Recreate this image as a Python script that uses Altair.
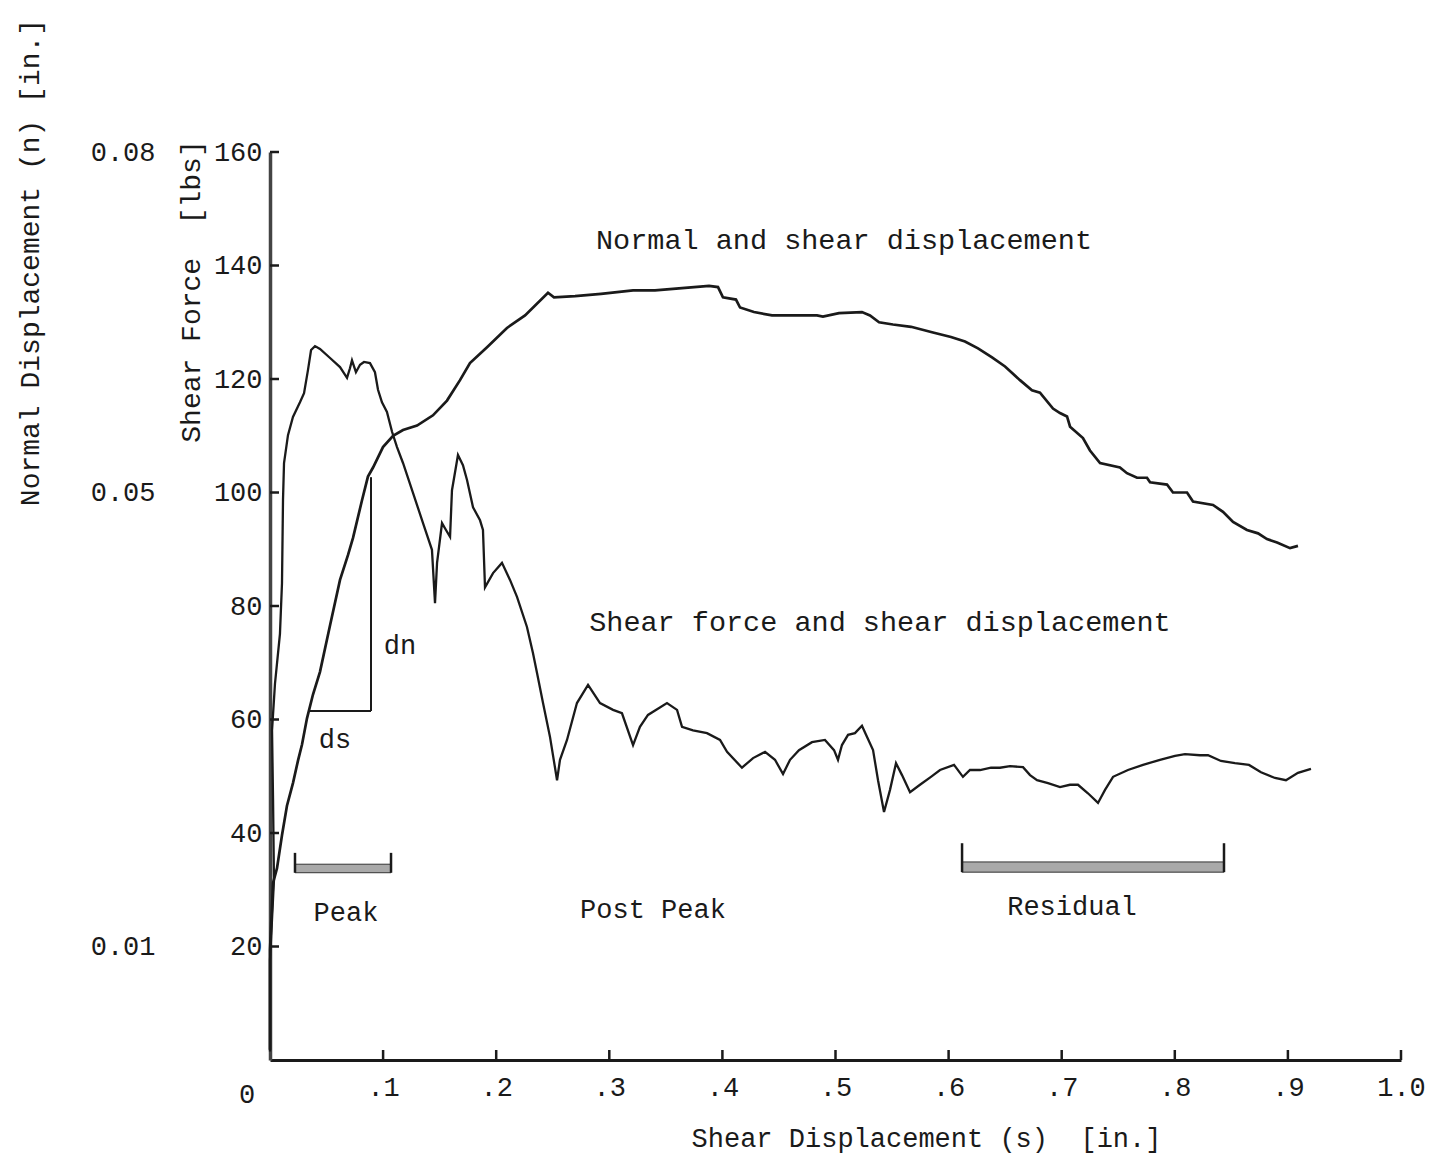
import altair as alt
import pandas as pd

# ---------------- data ----------------
# Shear force curve: shear displacement s [in.] vs shear force F [lbs]
force_s = [0.0, 0.0, 0.0035, 0.0027, 0.0018, 0.0044, 0.0088, 0.0106, 0.0115, 0.0124,
           0.0159, 0.0203, 0.0265, 0.0301, 0.0336, 0.0363, 0.0398, 0.0442, 0.0531, 0.0619,
           0.0681, 0.0707, 0.0725, 0.0760, 0.0796, 0.0831, 0.0884, 0.0928, 0.0955, 0.0990,
           0.1034, 0.1079, 0.1123, 0.1176, 0.1265, 0.1353, 0.1432, 0.1459, 0.1477, 0.1521,
           0.1556, 0.1592, 0.1609, 0.1662, 0.1706, 0.1742, 0.1795, 0.1857, 0.1883, 0.1901,
           0.1972, 0.2051, 0.2122, 0.2184, 0.2272, 0.2325, 0.2361, 0.2414, 0.2476, 0.2538,
           0.2564, 0.2626, 0.2714, 0.2812, 0.2918, 0.3033, 0.3112, 0.3210, 0.3271, 0.3342,
           0.3510, 0.3599, 0.3643, 0.3740, 0.3864, 0.3979, 0.4041, 0.4173, 0.4271, 0.4377,
           0.4465, 0.4536, 0.4598, 0.4677, 0.4792, 0.4907, 0.4987, 0.5022, 0.5057, 0.5111,
           0.5172, 0.5234, 0.5270, 0.5332, 0.5376, 0.5429, 0.5482, 0.5535, 0.5588, 0.5659,
           0.5747, 0.5844, 0.5924, 0.6048, 0.6127, 0.6189, 0.6278, 0.6375, 0.6454, 0.6543,
           0.6658, 0.6720, 0.6782, 0.6879, 0.6985, 0.7073, 0.7144, 0.7232, 0.7321, 0.7383,
           0.7454, 0.7586, 0.7719, 0.7869, 0.8002, 0.8090, 0.8223, 0.8294, 0.8408, 0.8532,
           0.8656, 0.8762, 0.8886, 0.8983, 0.9089, 0.9204]
force_F = [1.5, 17.6, 31.7, 45.8, 58.1, 66.3, 75.1, 84.0, 98.7, 105.2,
           110.1, 113.3, 115.9, 117.5, 121.6, 125.1, 125.8, 125.3, 123.7, 122.1,
           120.2, 121.9, 123.3, 121.2, 122.5, 123.0, 122.8, 121.2, 118.1, 115.9,
           114.2, 110.7, 108.0, 105.2, 99.9, 94.6, 89.9, 80.5, 87.6, 94.6,
           93.4, 92.2, 100.4, 106.6, 104.8, 102.2, 97.4, 95.1, 93.4, 83.3,
           85.8, 87.6, 84.6, 81.6, 76.3, 71.7, 68.2, 62.9, 56.9, 49.3,
           52.9, 56.4, 62.9, 66.1, 62.9, 61.7, 61.1, 55.5, 58.7, 60.8,
           62.9, 61.7, 58.7, 58.1, 57.6, 56.4, 54.3, 51.5, 53.2, 54.3,
           52.9, 50.4, 52.9, 54.6, 56.0, 56.4, 54.6, 52.9, 55.5, 57.3,
           57.6, 58.9, 57.3, 54.6, 49.3, 43.7, 47.6, 52.3, 50.2, 47.2,
           48.5, 49.9, 51.1, 52.0, 49.9, 51.1, 51.1, 51.5, 51.5, 51.8,
           51.6, 50.2, 49.3, 48.8, 48.1, 48.5, 48.5, 47.0, 45.3, 47.6,
           49.9, 51.1, 52.0, 52.9, 53.6, 53.9, 53.7, 53.7, 52.7, 52.3,
           52.0, 50.7, 49.7, 49.3, 50.6, 51.3]

# Normal displacement curve: shear displacement s [in.] vs normal displacement n [in.]
norm_s = [0.0, 0.0, 0.0027, 0.0062, 0.0106, 0.0150, 0.0203, 0.0248, 0.0283, 0.0327,
          0.0380, 0.0442, 0.0531, 0.0619, 0.0690, 0.0734, 0.0813, 0.0866, 0.0911, 0.0999,
          0.1088, 0.1176, 0.1300, 0.1441, 0.1565, 0.1680, 0.1768, 0.1919, 0.2095, 0.2255,
          0.2458, 0.2511, 0.2697, 0.2927, 0.3210, 0.3404, 0.3643, 0.3882, 0.3961, 0.4005,
          0.4120, 0.4156, 0.4279, 0.4439, 0.4677, 0.4836, 0.4889, 0.5031, 0.5234, 0.5305,
          0.5385, 0.5508, 0.5668, 0.5862, 0.6021, 0.6145, 0.6260, 0.6384, 0.6499, 0.6631,
          0.6737, 0.6808, 0.6923, 0.6985, 0.7047, 0.7074, 0.7188, 0.7250, 0.7339, 0.7515,
          0.7577, 0.7666, 0.7754, 0.7781, 0.7931, 0.7984, 0.8108, 0.8161, 0.8338, 0.8426,
          0.8515, 0.8638, 0.8736, 0.8815, 0.8904, 0.9019, 0.9089]
norm_n = [0.0009, 0.0097, 0.0156, 0.0169, 0.0198, 0.0224, 0.0244, 0.0264, 0.0278, 0.0301,
          0.0322, 0.0342, 0.0383, 0.0423, 0.0445, 0.0460, 0.0493, 0.0514, 0.0522, 0.0540,
          0.0550, 0.0555, 0.0559, 0.0568, 0.0581, 0.0599, 0.0614, 0.0628, 0.0645, 0.0656,
          0.0676, 0.0672, 0.0673, 0.0675, 0.0678, 0.0678, 0.0680, 0.0682, 0.0681, 0.0672,
          0.0670, 0.0663, 0.0659, 0.0656, 0.0656, 0.0656, 0.0655, 0.0658, 0.0659, 0.0656,
          0.0650, 0.0648, 0.0646, 0.0641, 0.0637, 0.0633, 0.0627, 0.0619, 0.0611, 0.0599,
          0.0590, 0.0588, 0.0574, 0.0570, 0.0567, 0.0558, 0.0548, 0.0537, 0.0526, 0.0522,
          0.0517, 0.0513, 0.0513, 0.0509, 0.0507, 0.0500, 0.0500, 0.0492, 0.0489, 0.0483,
          0.0474, 0.0467, 0.0464, 0.0459, 0.0456, 0.0451, 0.0453]

# Axis tick values
x_ticks = [0.1, 0.2, 0.3, 0.4, 0.5, 0.6, 0.7, 0.8, 0.9, 1.0]
y_ticks = [20, 40, 60, 80, 100, 120, 140, 160]
n_ticks = [0.01, 0.05, 0.08]

# Range brackets (Peak, Residual): s range, band F range, tick top F
bracket_s0 = [0.0221, 0.6119]
bracket_s1 = [0.1070, 0.8435]
band_lo = [33.0, 33.1]
band_hi = [34.5, 34.9]
bracket_top = [36.5, 38.2]

# ds / dn construction (segments in s, F)
seg_s = [0.0336, 0.0893]
seg_s2 = [0.0893, 0.0893]
seg_F = [61.5, 61.5]
seg_F2 = [61.5, 102.7]

# Text annotations
note_text = ["dn", "ds", "Peak", "Post Peak", "Residual", "0"]
note_s = [0.115, 0.0575, 0.0672, 0.3386, 0.7091, -0.0203]
note_F = [73.0, 56.4, 25.9, 26.4, 27.0, -6.2]
curve_text = ["Normal and shear displacement", "Shear force and shear displacement"]
curve_s = [0.5075, 0.5393]
curve_F = [144.5, 77.2]

NB = "\u00a0"  # keeps the typewriter double spaces from collapsing
x_title = "Shear Displacement (s)" + NB + NB + "[in.]"
y_title = "Shear Force" + NB + NB + "[lbs]"
n_title = "Normal Displacement (n) [in.]"

# ---------------- chart ----------------
W, H = 1131, 908
FONT = "Liberation Mono"
INK = "#1a1a1a"
FS = 27

xscale = alt.Scale(domain=[0, 1.0], nice=False, zero=False)
yscale = alt.Scale(domain=[0, 160], nice=False)
nscale = alt.Scale(domain=[0, 0.08], nice=False)

df_force = pd.DataFrame({"s": force_s, "F": force_F, "i": list(range(len(force_s)))})
df_norm = pd.DataFrame({"s": norm_s, "n": norm_n, "i": list(range(len(norm_s)))})

x_axis = alt.Axis(
    values=x_ticks,
    labelExpr="datum.value >= 1 ? '1.0' : '.' + round(datum.value * 10)",
    labelFont=FONT, labelFontSize=FS, labelColor=INK, labelPadding=27,
    labelBaseline="middle", labelFlush=False, labelOverlap=False,
    ticks=False, tickSize=0, grid=False,
    domainColor=INK, domainWidth=3,
    title=x_title, titleFont=FONT, titleFontSize=FS,
    titleFontWeight="normal", titleColor=INK, titleX=656, titleY=78,
    titleAlign="center", titleBaseline="middle",
)
y_axis = alt.Axis(
    values=y_ticks, labelFont=FONT, labelFontSize=FS, labelColor=INK,
    labelPadding=8, labelOverlap=False,
    ticks=False, tickSize=0, grid=False,
    domainColor="#444", domainWidth=3.5,
    title=y_title, titleFont=FONT, titleFontSize=28,
    titleFontWeight="normal", titleColor=INK, titleX=-79, titleY=139,
    titleAngle=270, titleAlign="center", titleBaseline="middle",
)
n_axis = alt.Axis(
    values=n_ticks, format=".2f", orient="left",
    labelFont=FONT, labelFontSize=FS, labelColor=INK, labelPadding=115,
    labelOverlap=False,
    domain=False, ticks=False, tickSize=0, grid=False,
    title=n_title, titleFont=FONT, titleFontSize=28,
    titleFontWeight="normal", titleColor=INK, titleX=-240, titleY=110,
    titleAngle=270, titleAlign="center", titleBaseline="middle",
)


def X(field):
    # every layer shares the same x scale and the same (explicit) x axis
    return alt.X(field, scale=xscale, axis=x_axis)


def Y(field):
    return alt.Y(field, scale=yscale, axis=None)


force_line = alt.Chart(df_force).mark_line(color=INK, strokeWidth=2.3).encode(
    x=X("s:Q"),
    y=alt.Y("F:Q", scale=yscale, axis=y_axis),
    order="i:Q",
)

ytick = alt.Chart(pd.DataFrame({"F": y_ticks})).mark_rule(color=INK, strokeWidth=2.5).encode(
    y=Y("F:Q"),
    x=alt.value(0), x2=alt.value(9),
)
xtick = alt.Chart(pd.DataFrame({"s": x_ticks})).mark_rule(color=INK, strokeWidth=2.5).encode(
    x=X("s:Q"),
    y=alt.value(H), y2=alt.value(H - 10),
)

df_band = pd.DataFrame({"s0": bracket_s0, "s1": bracket_s1, "lo": band_lo, "hi": band_hi,
                        "top": bracket_top})
bands = alt.Chart(df_band).mark_rect(fill="#a9a9a9", stroke="#333", strokeWidth=1).encode(
    x=X("s0:Q"), x2="s1:Q",
    y=Y("lo:Q"), y2="hi:Q",
)
left_ticks = alt.Chart(df_band).mark_rule(color=INK, strokeWidth=2.5).encode(
    x=X("s0:Q"),
    y=Y("lo:Q"), y2="top:Q",
)
right_ticks = alt.Chart(df_band).mark_rule(color=INK, strokeWidth=2.5).encode(
    x=X("s1:Q"),
    y=Y("lo:Q"), y2="top:Q",
)

df_seg = pd.DataFrame({"s": seg_s, "s2": seg_s2, "F": seg_F, "F2": seg_F2})
segs = alt.Chart(df_seg).mark_rule(color=INK, strokeWidth=2).encode(
    x=X("s:Q"), x2="s2:Q",
    y=Y("F:Q"), y2="F2:Q",
)

df_note = pd.DataFrame({"s": note_s, "F": note_F, "t": note_text})
notes = alt.Chart(df_note).mark_text(
    font=FONT, fontSize=FS, color=INK, align="center", baseline="middle"
).encode(
    x=X("s:Q"),
    y=Y("F:Q"),
    text="t:N",
)

df_curve = pd.DataFrame({"s": curve_s, "F": curve_F, "t": curve_text})
curve_notes = alt.Chart(df_curve).mark_text(
    font=FONT, fontSize=28.5, color=INK, align="center", baseline="middle"
).encode(
    x=X("s:Q"),
    y=Y("F:Q"),
    text="t:N",
)

norm_line = alt.Chart(df_norm).mark_line(color=INK, strokeWidth=2.7).encode(
    x=X("s:Q"),
    y=alt.Y("n:Q", scale=nscale, axis=n_axis),
    order="i:Q",
)

chart = alt.layer(
    force_line, ytick, xtick, bands, left_ticks, right_ticks, segs, notes, curve_notes,
    norm_line,
).resolve_scale(y="independent").properties(
    width=W, height=H,
    padding={"left": 270, "top": 152, "right": 29, "bottom": 98},
    autosize=alt.AutoSizeParams(type="none"),
    background="white",
).configure_view(stroke=None)

chart.save("out.html", embed_options={"renderer": "svg", "actions": False})
